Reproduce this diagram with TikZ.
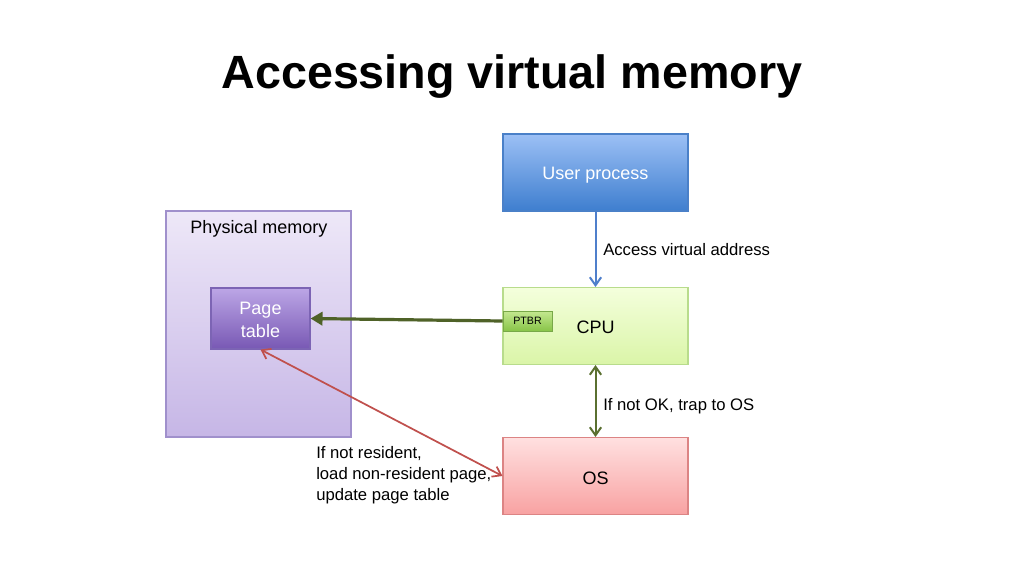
\documentclass[tikz,border=0pt]{standalone}
\usepackage{fontspec}
\setmainfont{Liberation Sans}
\usetikzlibrary{arrows.meta}
\definecolor{upTop}{HTML}{9CC0F5}
\definecolor{upBot}{HTML}{3E7ECF}
\definecolor{upBd}{HTML}{4A80C8}
\definecolor{pmTop}{HTML}{EEE8F8}
\definecolor{pmBot}{HTML}{C6B6E6}
\definecolor{pmBd}{HTML}{A090CC}
\definecolor{ptTop}{HTML}{BCA6E6}
\definecolor{ptBot}{HTML}{7858B4}
\definecolor{ptBd}{HTML}{7C64B4}
\definecolor{cpuTop}{HTML}{F4FFDC}
\definecolor{cpuBot}{HTML}{DAF5A8}
\definecolor{cpuBd}{HTML}{B8DC8C}
\definecolor{pbTop}{HTML}{C4E890}
\definecolor{pbBot}{HTML}{88C448}
\definecolor{pbBd}{HTML}{78A848}
\definecolor{osTop}{HTML}{FFE0E0}
\definecolor{osBot}{HTML}{F8A2A2}
\definecolor{osBd}{HTML}{DC8484}
\definecolor{blueArr}{HTML}{4F7FCB}
\definecolor{oliveArr}{HTML}{5A7030}
\definecolor{greenArr}{HTML}{4F6228}
\definecolor{redArr}{HTML}{C0504D}
\tikzset{
  box/.style={draw, line width=0.8pt, minimum width=138.75pt, minimum height=57.75pt, inner sep=0pt, font=\fontsize{13.5pt}{16pt}\selectfont},
  boxtext/.style={font=\fontsize{13.5pt}{16pt}\selectfont, inner sep=0pt},
  lbl/.style={font=\fontsize{12.5pt}{15.75pt}\selectfont, inner sep=0pt, anchor=west, align=left},
  mybarb/.tip={Straight Barb[length=6pt,width=8.5pt]},
}
\begin{document}
\begin{tikzpicture}[x=0.75pt,y=-0.75pt]
\useasboundingbox (0,0) rectangle (1024,576);
\fill[white] (0,0) rectangle (1024,576);
\node[font=\bfseries\fontsize{35pt}{40pt}\selectfont, inner sep=0pt] (title) at (512,77) {Accessing virtual memory};
% Physical memory
\node[box, minimum width=138.75pt, minimum height=169.5pt, top color=pmTop, bottom color=pmBot, draw=pmBd] (pm) at (258.5,324) {};
\node[boxtext] (pmlabel) at (259,229) {Physical memory};
\node[box, minimum width=74.25pt, minimum height=45.75pt, top color=ptTop, bottom color=ptBot, draw=ptBd] (pt) at (260.5,318.5) {};
\node[boxtext, text=white, align=center, font=\fontsize{13.5pt}{17pt}\selectfont] (ptlabel) at (260.5,320) {Page\\table};
% User process
\node[box, top color=upTop, bottom color=upBot, draw=upBd] (up) at (595.5,172.5) {};
\node[boxtext, text=white] (uplabel) at (595.5,175) {User process};
% CPU
\node[box, top color=cpuTop, bottom color=cpuBot, draw=cpuBd] (cpu) at (595.5,326) {};
\node[boxtext] (cpulabel) at (595.5,327) {CPU};
\node[draw=pbBd, line width=0.6pt, top color=pbTop, bottom color=pbBot, minimum width=36.75pt, minimum height=15pt, inner sep=0pt, font=\fontsize{8pt}{9pt}\selectfont] (ptbr) at (527.5,321) {PTBR};
% OS
\node[box, top color=osTop, bottom color=osBot, draw=osBd] (os) at (595.5,476) {};
\node[boxtext] (oslabel) at (595.5,478) {OS};
% arrows
\draw[blueArr, line width=1.5pt, -{mybarb}] (up.south) -- (cpu.north);
\node[lbl] (l1) at (603,250) {Access virtual address};
\draw[greenArr, line width=2.4pt, -{Triangle[length=9pt,width=10pt]}] (ptbr.west) -- (pt.east);
\draw[oliveArr, line width=1.5pt, {mybarb}-{mybarb}] (cpu.south) -- (os.north);
\node[lbl] (l2) at (603,406) {If not OK, trap to OS};
\draw[redArr, line width=1.3pt, {mybarb}-{mybarb}] (pt.south) -- (os.west);
\node[lbl, anchor=north west] (l3) at (316,446) {If not resident,\\load non-resident page,\\update page table};
\end{tikzpicture}
\end{document}
